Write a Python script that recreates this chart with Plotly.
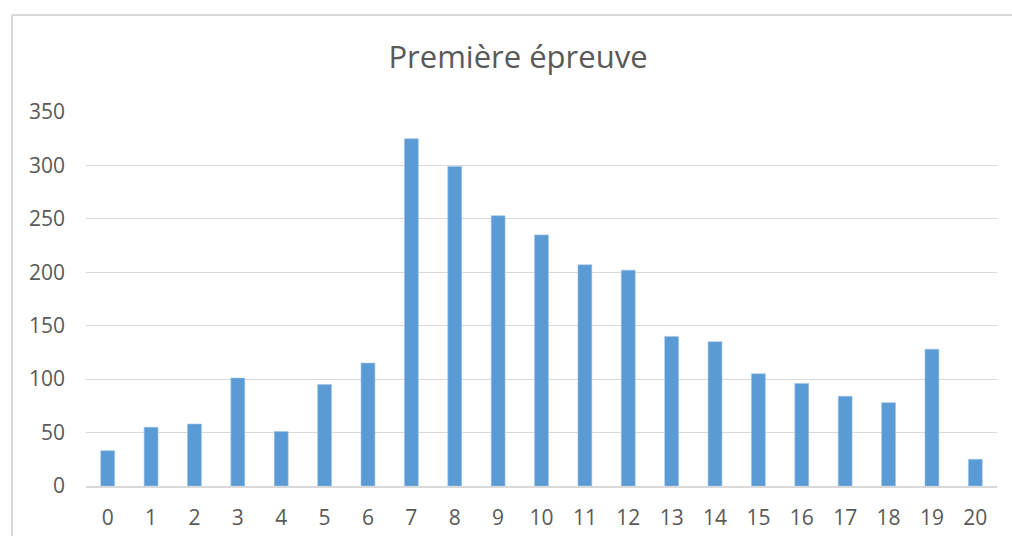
import plotly.graph_objects as go

categories = [str(i) for i in range(21)]
values = [33, 55, 58, 101, 51, 95, 115, 325, 299, 253, 235, 207, 202, 140, 135, 105, 96, 84, 78, 128, 25]
y_ticks = [0, 50, 100, 150, 200, 250, 300, 350]
title_text = "Première épreuve"

W, H = 1012, 536
L, R, T, B = 86, 15, 112, 50
pw, ph = W - L - R, H - T - B

fig = go.Figure()
fig.add_trace(go.Bar(
    x=categories, y=values,
    marker=dict(color="#5b9bd5", line=dict(color="#9dc3e6", width=0.6)),
    width=0.32,
))

def px_to_paper_x(px):
    return (px - L) / pw

def px_to_paper_y(py):
    return (H - B - py) / ph

border_col = "#d9d9d9"
fig.add_shape(type="line", xref="paper", yref="paper",
              x0=px_to_paper_x(12), x1=px_to_paper_x(1030),
              y0=px_to_paper_y(15), y1=px_to_paper_y(15),
              line=dict(color=border_col, width=2))
fig.add_shape(type="line", xref="paper", yref="paper",
              x0=px_to_paper_x(12), x1=px_to_paper_x(12),
              y0=px_to_paper_y(15), y1=px_to_paper_y(560),
              line=dict(color=border_col, width=2))

fig.update_layout(
    width=W, height=H,
    margin=dict(l=L, r=R, t=T, b=B, autoexpand=False),
    paper_bgcolor="white", plot_bgcolor="white",
    font=dict(family="Open Sans", color="#595959"),
    title=dict(text=title_text, x=518 / W, xanchor="center",
               xref="container", yref="container",
               y=1 - 57 / H, yanchor="middle",
               font=dict(family="Open Sans", size=31, color="#595959")),
    showlegend=False,
    bargap=0.68,
)
fig.update_yaxes(range=[0, 350], tickvals=y_ticks, showgrid=True,
                 gridcolor="#d9d9d9", gridwidth=1.3, zeroline=False,
                 showline=False, ticks="", ticklabelstandoff=20,
                 automargin=False,
                 tickfont=dict(size=21, color="#595959"))
fig.update_xaxes(showgrid=False, showline=True, linecolor="#d9d9d9",
                 linewidth=1.5, ticks="", ticklabelstandoff=12,
                 automargin=False,
                 tickfont=dict(size=21, color="#595959"))

fig.write_html("out.html")
